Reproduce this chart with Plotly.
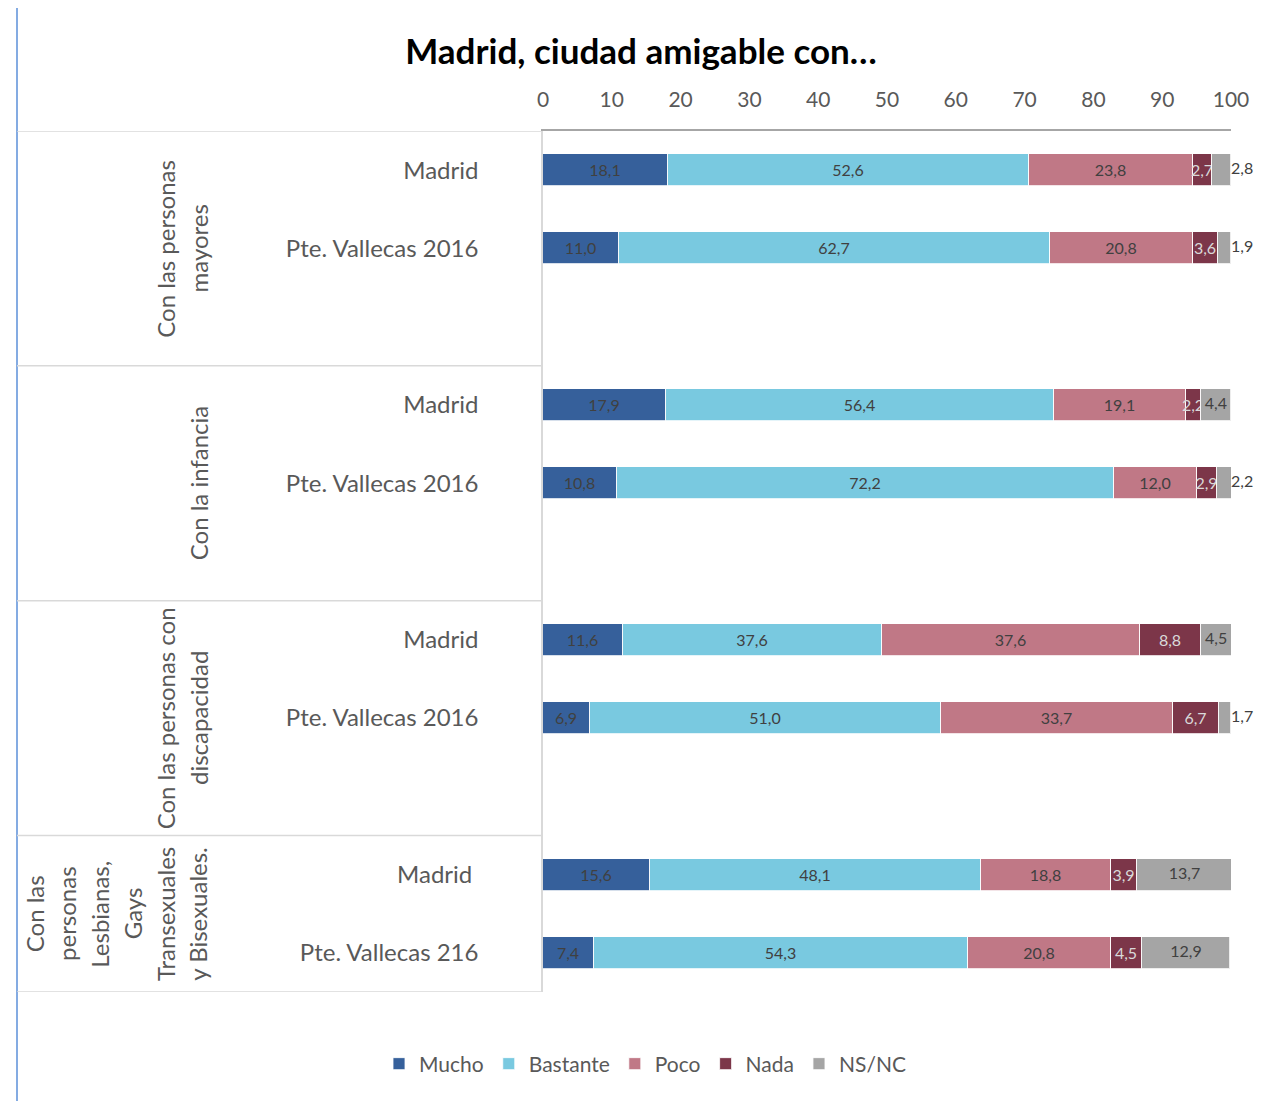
import plotly.graph_objects as go

# ---------------- data ----------------
group_lines = [["Con las personas", "mayores"],
               ["Con la infancia"],
               ["Con las personas con", "discapacidad"],
               ["Con las", "personas", "Lesbianas,", "Gays", "Transexuales", "y Bisexuales."]]
row_labels = ["Madrid", "Pte. Vallecas 2016",
              "Madrid", "Pte. Vallecas 2016",
              "Madrid", "Pte. Vallecas 2016",
              "Madrid\u00a0", "Pte. Vallecas 216"]
row_group = [0, 0, 1, 1, 2, 2, 3, 3]
row_in_group = [0, 1, 0, 1, 0, 1, 0, 1]

series = ["Mucho", "Bastante", "Poco", "Nada", "NS/NC"]
mucho    = [18.1, 11.0, 17.9, 10.8, 11.6, 6.9, 15.6, 7.4]
bastante = [52.6, 62.7, 56.4, 72.2, 37.6, 51.0, 48.1, 54.3]
poco     = [23.8, 20.8, 19.1, 12.0, 37.6, 33.7, 18.8, 20.8]
nada     = [2.7, 3.6, 2.2, 2.9, 8.8, 6.7, 3.9, 4.5]
nsnc     = [2.8, 1.9, 4.4, 2.2, 4.5, 1.7, 13.7, 12.9]
values = [mucho, bastante, poco, nada, nsnc]

colors = ["#36609B", "#79C9E0", "#C07886", "#7C3649", "#A5A5A5"]
label_colors = ["#404040", "#404040", "#404040", "#D9D9D9", "#404040"]

# ---------------- layout helpers ----------------
OFF = 8                      # page body margin
PAGE_W, PAGE_H = 1263, 1101
W, H = PAGE_W - OFF, PAGE_H - OFF
PL, PR, PT, PB = 543, 1231, 131, 992   # plot area in page pixels


def px_x(px):
    return (px - PL) / (PR - PL)


def px_y(py):
    return (PB - py) / (PB - PT)


slots = [3 * g + i for g, i in zip(row_group, row_in_group)]
n_slots = 11
XMAX = 100


def fmt(v):
    return f"{v:.1f}".replace(".", ",")


fig = go.Figure()
for k, (name, vals) in enumerate(zip(series, values)):
    is_last = name == "NS/NC"
    fig.add_trace(go.Bar(
        name=name, x=vals, y=slots, orientation="h",
        marker=dict(color=colors[k], line=dict(color="rgba(255,255,255,0.8)", width=1)),
        width=0.41,
        text=None if is_last else [fmt(v) for v in vals],
        textposition="none" if is_last else "inside",
        insidetextanchor="middle", textangle=0,
        insidetextfont=dict(color=label_colors[k], size=16, family="Lato"),
        cliponaxis=False,
    ))

# NS/NC labels: small values just past the bar end, larger ones centred
totals = [sum(v[i] for v in values) for i in range(len(slots))]
starts = [sum(v[i] for v in values[:4]) for i in range(len(slots))]
lab_x, lab_pos = [], []
for i, v in enumerate(nsnc):
    if v < 4:
        lab_x.append(min(totals[i], XMAX))
        lab_pos.append("middle right")
    else:
        lab_x.append(starts[i] + v / 2)
        lab_pos.append("middle center")
fig.add_trace(go.Scatter(
    x=lab_x, y=slots, mode="text", text=[fmt(v) for v in nsnc],
    textposition=lab_pos, showlegend=False, hoverinfo="skip",
    textfont=dict(color="#404040", size=16, family="Lato"), cliponaxis=False,
))

shapes = []
shapes.append(dict(type="line", xref="paper", yref="paper",
                   x0=px_x(17), x1=px_x(PAGE_W + 5), y0=px_y(7), y1=px_y(7),
                   line=dict(color="#5B8FD9", width=1.5)))
shapes.append(dict(type="line", xref="paper", yref="paper",
                   x0=px_x(17), x1=px_x(17), y0=px_y(7), y1=px_y(PAGE_H + 5),
                   line=dict(color="#5B8FD9", width=1.5)))
bounds = [-0.5, 2.5, 5.5, 8.5, n_slots - 0.5]
for b in bounds:
    shapes.append(dict(type="line", xref="paper", yref="y",
                       x0=px_x(17), x1=0, y0=b, y1=b,
                       line=dict(color="#D9D9D9", width=1.5)))

annotations = []
line_gap = 32.7
centers = [1.0, 4.0, 7.0, 9.5]
for g, lines in enumerate(group_lines):
    n = len(lines)
    for j, t in enumerate(lines):
        xpix = 198 - (n - 1 - j) * line_gap
        annotations.append(dict(
            text=t, xref="paper", yref="y", x=px_x(xpix), y=centers[g],
            textangle=-90, xanchor="center", yanchor="middle", showarrow=False,
            font=dict(family="Lato", size=24, color="#595959")))

fig.update_layout(
    width=W, height=H,
    margin=dict(l=PL - OFF, r=PAGE_W - PR, t=PT - OFF, b=PAGE_H - PB),
    paper_bgcolor="white", plot_bgcolor="white",
    barmode="stack", bargap=0,
    title=dict(text="<b>Madrid, ciudad amigable con…</b>",
               x=(641 - OFF) / W, xanchor="center", y=1 - (52 - OFF) / H, yanchor="middle",
               xref="container", yref="container",
               font=dict(family="Lato", size=35, color="black")),
    font=dict(family="Lato", color="#595959"),
    showlegend=True,
    legend=dict(orientation="h", x=px_x(645), xanchor="center",
                y=px_y(1064), yanchor="middle",
                font=dict(family="Lato", size=21, color="#595959"),
                traceorder="normal"),
    uniformtext=dict(minsize=16, mode="show"),
    shapes=shapes, annotations=annotations,
)
fig.update_xaxes(range=[0, XMAX], side="top", dtick=10, tick0=0,
                 showgrid=False, zeroline=False,
                 showline=True, linecolor="#A6A6A6", linewidth=1.5,
                 ticks="", ticklabelstandoff=14,
                 tickfont=dict(family="Lato", size=21, color="#595959"))
fig.update_yaxes(range=[n_slots - 0.5, -0.5], tickmode="array",
                 tickvals=slots, ticktext=row_labels,
                 showgrid=False, zeroline=False,
                 showline=True, linecolor="#D9D9D9", linewidth=1.5,
                 ticks="", ticklabelstandoff=58,
                 tickfont=dict(family="Lato", size=24, color="#595959"))

fig.write_html("out.html")
